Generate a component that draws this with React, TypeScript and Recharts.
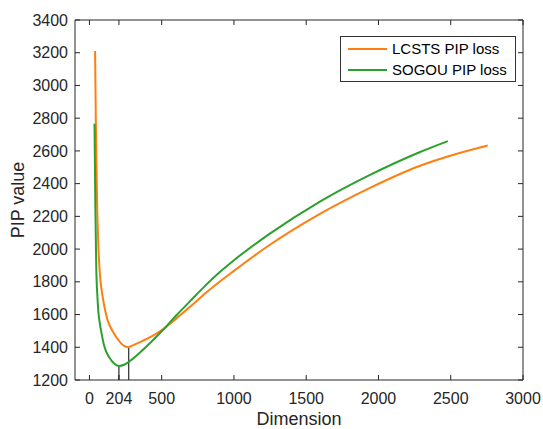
import React from 'react';
import {
  LineChart,
  Line,
  XAxis,
  YAxis,
  Legend,
  ReferenceLine
} from 'recharts';

// values
const lcstsDim = [39, 44, 49, 53, 60, 67, 75, 85, 95, 110, 125, 150, 173, 200, 219, 240, 265, 300, 346, 430, 519, 600, 700, 800, 900, 1000, 1246, 1592, 1938, 2284, 2514, 2756];
const lcstsPip = [3210, 2790, 2480, 2280, 2060, 1920, 1820, 1745, 1689, 1620, 1567, 1515, 1480, 1445, 1424, 1408, 1400, 1412, 1430, 1466, 1516, 1575, 1650, 1728, 1800, 1867, 2025, 2214, 2373, 2508, 2575, 2633];

const sogouDim = [35, 41, 47, 55, 62, 72, 85, 100, 113, 150, 175, 204, 240, 274, 346, 430, 519, 600, 700, 800, 900, 1000, 1246, 1592, 1938, 2284, 2480];
const sogouPip = [2766, 2250, 1893, 1710, 1615, 1545, 1480, 1415, 1380, 1322, 1298, 1286, 1293, 1312, 1365, 1435, 1516, 1594, 1685, 1775, 1858, 1932, 2093, 2289, 2452, 2592, 2660];

const xTicks = [0, 204, 500, 1000, 1500, 2000, 2500, 3000];
const yTicks = [1200, 1400, 1600, 1800, 2000, 2200, 2400, 2600, 2800, 3000, 3200, 3400];

// optimum markers: dimension and the PIP value at that dimension
const markerDims = [204, 272];
const markerPips = [1286, 1400];

const seriesNames = ['LCSTS PIP loss', 'SOGOU PIP loss'];
const seriesColors = ['#ff7f0e', '#2ca02c'];

const lcstsData = lcstsDim.map((x, i) => ({ x, y: lcstsPip[i] }));
const sogouData = sogouDim.map((x, i) => ({ x, y: sogouPip[i] }));

const X_MIN = -100;
const X_MAX = 3000;
const Y_MIN = 1200;
const Y_MAX = 3400;
// inward tick length (about 5px) in data units
const X_TICK = 35;
const Y_TICK = 31;

const FONT = '"Liberation Sans", Arial, Helvetica, sans-serif';
const AX = '#262626';

const renderLegend = () => (
  <div
    style={{
      boxSizing: 'border-box',
      width: 176,
      height: 46,
      border: '1px solid #333',
      background: '#fff',
      paddingTop: 1,
      paddingLeft: 7,
      fontFamily: FONT,
      fontSize: 15,
      color: '#000'
    }}
  >
    {seriesNames.map((name, i) => (
      <div key={name} style={{ display: 'flex', alignItems: 'center', height: 21 }}>
        <div style={{ width: 39, height: 2, background: seriesColors[i], marginRight: 5 }} />
        <span>{name}</span>
      </div>
    ))}
  </div>
);

export default function App() {
  return (
    <div style={{ position: 'absolute', left: 0, top: 0, width: 543, height: 429, background: '#fff' }}>
      <LineChart
        width={543}
        height={429}
        margin={{ top: 20, right: 20, bottom: 0, left: 0 }}
        style={{ fontFamily: FONT }}
      >
        <XAxis
          type="number"
          dataKey="x"
          domain={[X_MIN, X_MAX]}
          ticks={xTicks}
          interval={0}
          allowDataOverflow
          height={49}
          tickLine={false}
          tickSize={-5}
          tickMargin={18}
          stroke={AX}
          tick={{ fill: AX, fontSize: 16 }}
          label={{ value: 'Dimension', position: 'insideBottom', offset: 4, fill: AX, fontSize: 18 }}
        />
        <YAxis
          type="number"
          domain={[Y_MIN, Y_MAX]}
          ticks={yTicks}
          interval={0}
          allowDataOverflow
          width={75}
          tickLine={false}
          tickSize={-5}
          tickMargin={12}
          stroke={AX}
          tick={{ fill: AX, fontSize: 16 }}
          label={{
            value: 'PIP value',
            angle: -90,
            position: 'insideLeft',
            offset: 18,
            fill: AX,
            fontSize: 18,
            style: { textAnchor: 'middle' }
          }}
        />

        {/* box: top and right edges */}
        <ReferenceLine y={Y_MAX} stroke={AX} ifOverflow="visible" />
        <ReferenceLine x={X_MAX} stroke={AX} ifOverflow="visible" />

        {/* MATLAB style inward ticks on all four sides */}
        {xTicks.map((t) => (
          <ReferenceLine key={'b' + t} segment={[{ x: t, y: Y_MIN }, { x: t, y: Y_MIN + Y_TICK }]} stroke={AX} ifOverflow="visible" />
        ))}
        {xTicks.map((t) => (
          <ReferenceLine key={'t' + t} segment={[{ x: t, y: Y_MAX }, { x: t, y: Y_MAX - Y_TICK }]} stroke={AX} ifOverflow="visible" />
        ))}
        {yTicks.map((t) => (
          <ReferenceLine key={'l' + t} segment={[{ x: X_MIN, y: t }, { x: X_MIN + X_TICK, y: t }]} stroke={AX} ifOverflow="visible" />
        ))}
        {yTicks.map((t) => (
          <ReferenceLine key={'r' + t} segment={[{ x: X_MAX, y: t }, { x: X_MAX - X_TICK, y: t }]} stroke={AX} ifOverflow="visible" />
        ))}

        {markerDims.map((d, i) => (
          <ReferenceLine
            key={'m' + d}
            segment={[{ x: d, y: Y_MIN }, { x: d, y: markerPips[i] }]}
            stroke="#000"
            strokeWidth={1}
            ifOverflow="visible"
          />
        ))}
        <Line
          data={lcstsData}
          dataKey="y"
          name={seriesNames[0]}
          type="monotone"
          stroke={seriesColors[0]}
          strokeWidth={2}
          dot={false}
          isAnimationActive={false}
        />
        <Line
          data={sogouData}
          dataKey="y"
          name={seriesNames[1]}
          type="monotone"
          stroke={seriesColors[1]}
          strokeWidth={2}
          dot={false}
          isAnimationActive={false}
        />
        <Legend
          layout="horizontal"
          verticalAlign="middle"
          align="center"
          content={renderLegend}
          wrapperStyle={{ position: 'absolute', left: 340, top: 36, width: 176, height: 46 }}
        />
      </LineChart>
    </div>
  );
}
